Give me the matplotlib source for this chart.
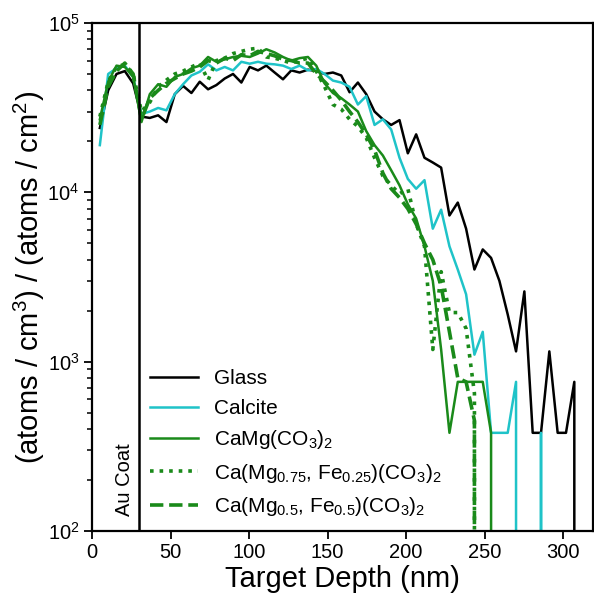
import matplotlib
matplotlib.use("Agg")
import matplotlib.pyplot as plt
import numpy as np

plt.rcParams['font.family'] = ['Liberation Sans', 'DejaVu Sans']
plt.rcParams['mathtext.fontset'] = 'custom'
plt.rcParams['mathtext.rm'] = 'Liberation Sans'
plt.rcParams['mathtext.it'] = 'Liberation Sans'
plt.rcParams['mathtext.default'] = 'regular'

depth = [5.0, 10.3, 15.6, 20.9, 26.2, 31.5, 36.8, 42.1, 47.4, 52.7,
         58.0, 63.3, 68.6, 73.9, 79.2, 84.5, 89.8, 95.1, 100.4, 105.7,
         111.0, 116.3, 121.6, 126.9, 132.2, 137.5, 142.8, 148.1, 153.4, 158.7,
         164.0, 169.3, 174.6, 179.9, 185.2, 190.5, 195.8, 201.1, 206.4, 211.7,
         217.0, 222.3, 227.6, 232.9, 238.2, 243.5, 248.8, 254.1, 259.4, 264.7,
         270.0, 275.3, 280.6, 285.9, 291.2, 296.5, 301.8, 307.1, 312.4]

glass = [24000, 40000, 50000, 52000, 44000, 28000, 27500, 28500, 26000, 38000,
         42500, 38600, 45000, 40600, 43000, 47000, 50000, 44500, 55000, 52500,
         56000, 51000, 46500, 52500, 51000, 53000, 52000, 50000, 51000, 49000,
         39000, 44500, 38000, 30000, 27000, 25000, 26700, 17000, 22000, 16000,
         15000, 14000, 7300, 8700, 6100, 3500, 4600, 4100, 3000, 1900,
         1150, 2600, 380, 380, 1150, 380, 380, 760, 0]

calcite = [19000, 50000, 54000, 56000, 48000, 29000, 30000, 31500, 30500, 38000,
           43500, 49000, 51500, 57000, 52500, 55000, 52500, 59000, 57500, 59000,
           57500, 57000, 56000, 53500, 56000, 52500, 53500, 50000, 45700, 44500,
           42000, 33000, 37000, 25000, 27000, 23500, 16000, 12000, 10500, 11800,
           6100, 7900, 4800, 3500, 2500, 1100, 1500, 380, 380, 380,
           760, 0, 0, 380, 0]

camg = [27000, 45000, 56000, 55000, 48000, 26000, 38000, 43500, 42000, 48000,
        50000, 54000, 56000, 63000, 59000, 61000, 63000, 64000, 63000, 66000,
        70000, 67000, 63000, 60000, 62000, 63000, 56000, 44000, 38600, 36000,
        33000, 30000, 23000, 19000, 16500, 13500, 11000, 8500, 7000, 4800,
        3000, 1180, 380, 760, 760, 760, 760, 380, 0]

fe25 = [28000, 45000, 55000, 57000, 50000, 30000, 34000, 42000, 46000, 50000,
        52000, 55000, 58000, 46000, 60000, 62000, 66000, 68000, 70000, 71000,
        63000, 62000, 60000, 58000, 60000, 62000, 52000, 42000, 33000, 31000,
        27000, 24500, 21000, 16000, 12500, 11000, 9800, 10500, 6500, 4800,
        1180, 3400, 1950, 1950, 1570, 650, 0]

fe50 = [25000, 42000, 52000, 58000, 50000, 27000, 36000, 40000, 44000, 47000,
        50000, 52000, 55000, 60000, 58000, 62000, 60000, 65000, 64000, 68000,
        66000, 64000, 61000, 60000, 58000, 58000, 50000, 45000, 40000, 35000,
        30000, 26000, 22000, 17800, 13000, 10500, 9300, 8000, 6500, 5000,
        4000, 2800, 1500, 800, 760, 450, 0]

labels = ['Glass', 'Calcite', 'CaMg(CO$_3$)$_2$',
          'Ca(Mg$_{0.75}$, Fe$_{0.25}$)(CO$_3$)$_2$',
          'Ca(Mg$_{0.5}$, Fe$_{0.5}$)(CO$_3$)$_2$']
series = [glass, calcite, camg, fe25, fe50]
colors = ['black', '#1fc3c8', '#1a8a1a', '#1a8a1a', '#1a8a1a']
styles = ['-', '-', '-', ':', '--']
widths = [1.8, 1.8, 1.8, 2.6, 2.6]

fig = plt.figure(figsize=(5.94, 5.93), dpi=100)
ax_bottom = 531
ax_top = 23
ax = fig.add_axes([92/594, 1-ax_bottom/593, 501/594, (ax_bottom-ax_top)/593])

for vals, lab, c, ls, lw in zip(series, labels, colors, styles, widths):
    ax.plot(depth[:len(vals)], vals, color=c, linestyle=ls, linewidth=lw, label=lab)

ax.axvline(30, color='black', linewidth=1.8)
ax.text(21, 200, 'Au Coat', rotation=90, ha='center', va='center', fontsize=14.5)

ax.set_yscale('log')
ax.set_ylim(100, 1e5)
ax.set_xlim(0, 319)
ax.set_xticks([0, 50, 100, 150, 200, 250, 300])
ax.tick_params(axis='both', which='major', labelsize=14.5, direction='out',
               length=6, width=1.3, pad=3, top=False, right=False)
ax.tick_params(axis='y', which='minor', direction='out', length=3.5, width=1.1, right=False)
for s in ax.spines.values():
    s.set_linewidth(1.6)

ax.set_xlabel('Target Depth (nm)', fontsize=21, labelpad=2)
ax.set_ylabel('(atoms / cm$^3$) / (atoms / cm$^2$)', fontsize=21, labelpad=0)

ax.legend(loc='upper left', bbox_to_anchor=(0.116, 0.318), frameon=False,
          fontsize=15, handlelength=2.3, handletextpad=0.75, labelspacing=0.5,
          borderpad=0, borderaxespad=0)

fig.savefig('out.png', dpi=100)
